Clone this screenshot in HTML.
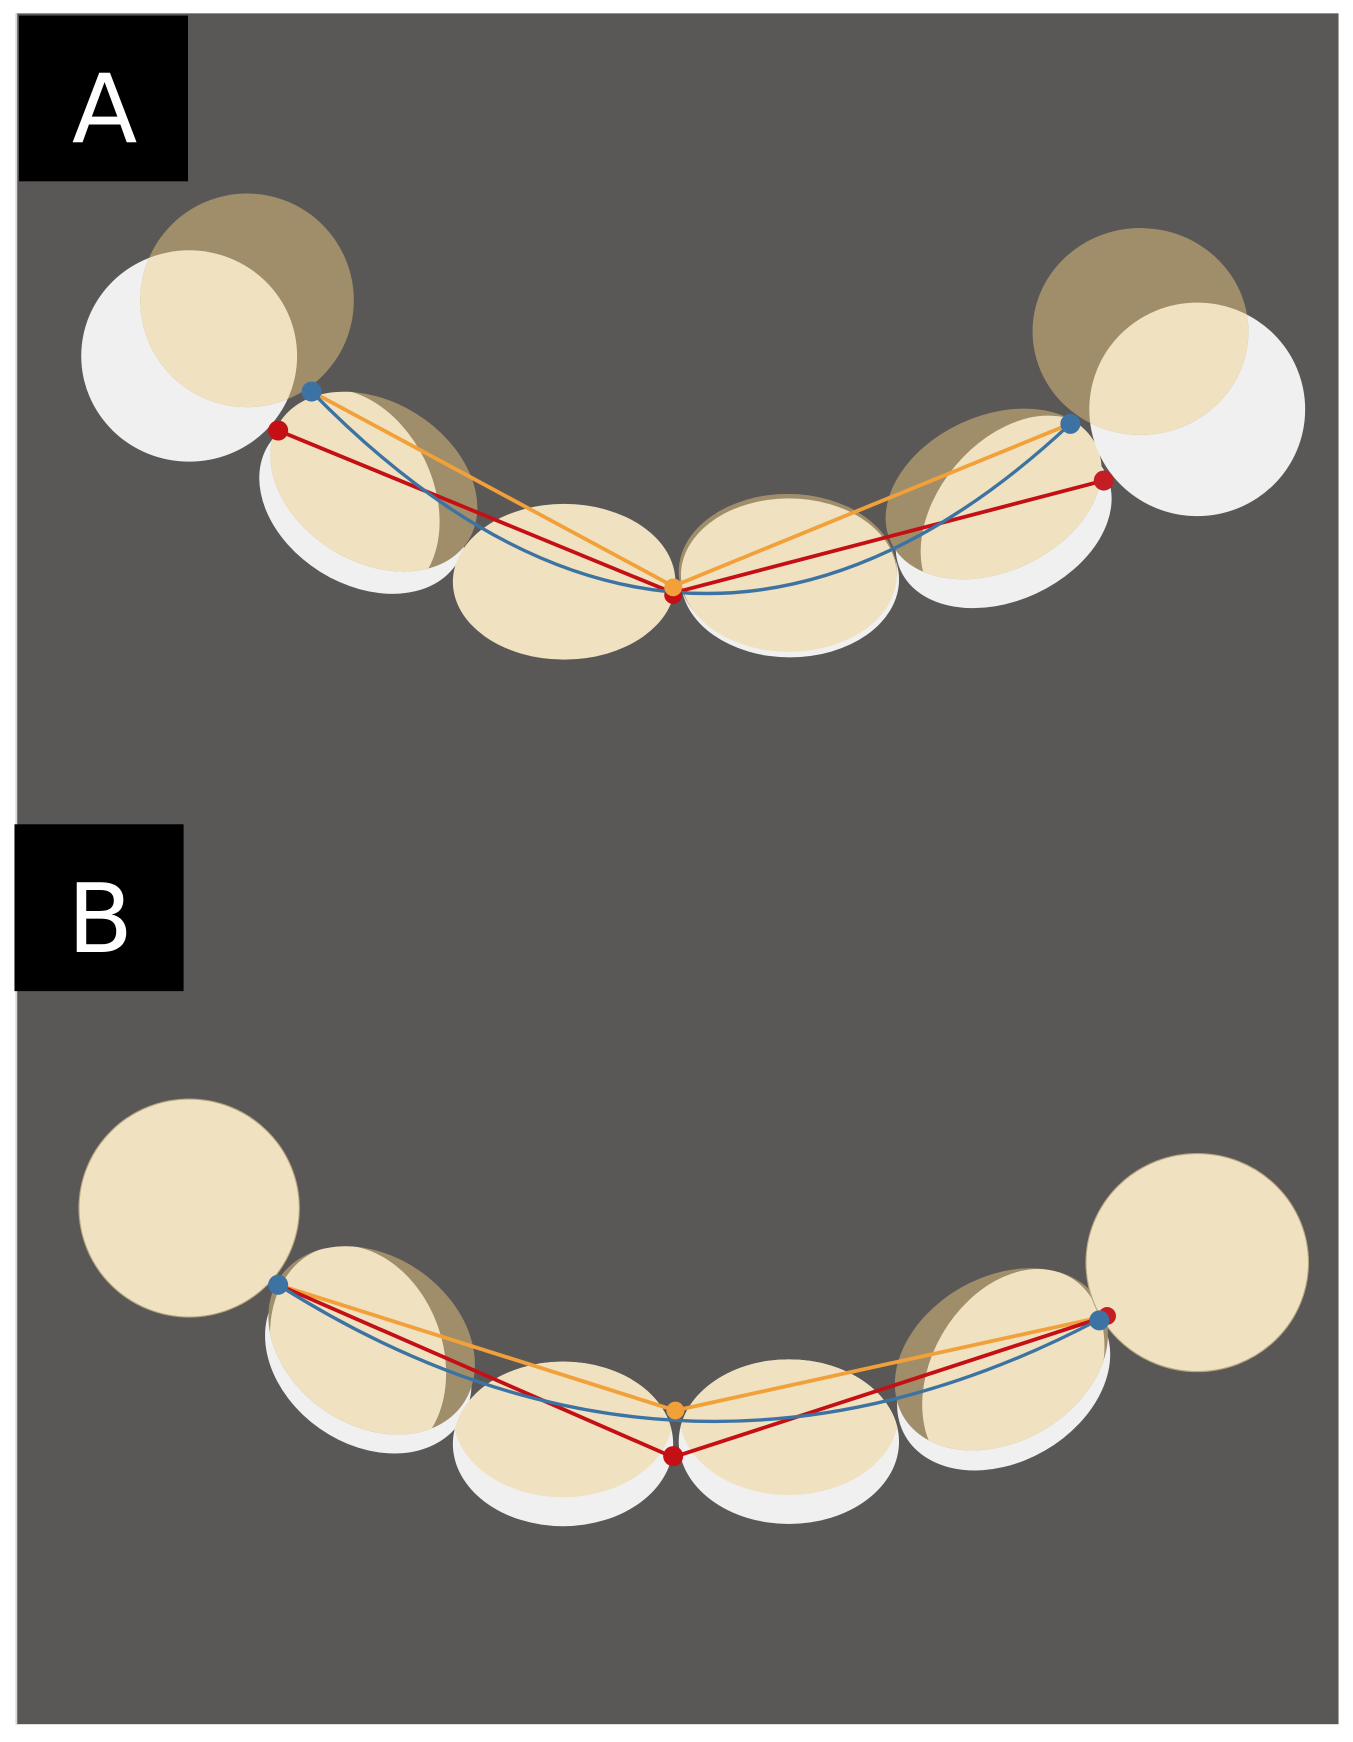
<!DOCTYPE html>
<html><head><style>html,body{margin:0;padding:0;background:#fff}svg{display:block}</style></head>
<body>
<svg width="1353" height="1742" viewBox="0 0 1216 1566" preserveAspectRatio="none" xmlns="http://www.w3.org/2000/svg">
<defs>
<clipPath id="c1"><ellipse cx="170" cy="320" rx="97" ry="95"/></clipPath>
<clipPath id="c2"><ellipse cx="326" cy="453" rx="100" ry="72" transform="rotate(32 326 453)"/></clipPath>
<clipPath id="c5"><ellipse cx="902" cy="470" rx="102" ry="70" transform="rotate(-25 902 470)"/></clipPath>
<clipPath id="c6"><ellipse cx="1076" cy="368" rx="97" ry="96"/></clipPath>
<clipPath id="b2"><ellipse cx="331" cy="1222" rx="100" ry="76" transform="rotate(35 331 1222)"/></clipPath>
<clipPath id="b3"><ellipse cx="506" cy="1298" rx="99" ry="74"/></clipPath>
<clipPath id="b4"><ellipse cx="709" cy="1296" rx="99" ry="74"/></clipPath>
<clipPath id="b5"><ellipse cx="902" cy="1240" rx="102" ry="74" transform="rotate(-30 902 1240)"/></clipPath>
</defs>
<rect x="0" y="0" width="1216" height="1566" fill="#fff"/>
<rect x="14" y="12" width="1189" height="1538" fill="#595857"/>
<rect x="14" y="12" width="1.5" height="1538" fill="#d8d8d8"/>

<rect x="17" y="14" width="152" height="149" fill="#000"/>
<text x="94" y="128" font-family="DejaVu Sans, sans-serif" font-size="86" fill="#fff" text-anchor="middle">A</text>

<ellipse cx="170" cy="320" rx="97" ry="95" fill="#f0f0f0"/>
<ellipse cx="222" cy="270" rx="96" ry="96" fill="#a08e6a"/>
<ellipse cx="222" cy="270" rx="96" ry="96" fill="#f0e2c0" clip-path="url(#c1)"/>

<ellipse cx="326" cy="453" rx="100" ry="72" transform="rotate(32 326 453)" fill="#f0f0f0"/>
<ellipse cx="336" cy="433" rx="100" ry="72" transform="rotate(32 336 433)" fill="#a08e6a"/>
<ellipse cx="336" cy="433" rx="100" ry="72" transform="rotate(32 336 433)" fill="#f0e2c0" clip-path="url(#c2)"/>

<ellipse cx="507" cy="523" rx="100" ry="70" fill="#f0e2c0"/>

<ellipse cx="710" cy="521" rx="98" ry="70" fill="#f0f0f0"/>
<ellipse cx="708" cy="514" rx="98" ry="70" fill="#a08e6a"/>
<ellipse cx="709" cy="517" rx="97" ry="69" fill="#f0e2c0"/>

<ellipse cx="902" cy="470" rx="102" ry="70" transform="rotate(-25 902 470)" fill="#f0f0f0"/>
<ellipse cx="893" cy="444" rx="102" ry="70" transform="rotate(-25 893 444)" fill="#a08e6a"/>
<ellipse cx="893" cy="444" rx="102" ry="70" transform="rotate(-25 893 444)" fill="#f0e2c0" clip-path="url(#c5)"/>

<ellipse cx="1076" cy="368" rx="97" ry="96" fill="#f0f0f0"/>
<ellipse cx="1025" cy="298" rx="97" ry="93" fill="#a08e6a"/>
<ellipse cx="1025" cy="298" rx="97" ry="93" fill="#f0e2c0" clip-path="url(#c6)"/>

<polyline points="280,352 605,527 962,381" fill="none" stroke="#f2a13a" stroke-width="3.4"/>
<polyline points="250,387 605,533 992,432" fill="none" stroke="#c40f14" stroke-width="3.4"/>
<path d="M280,352 Q620,700 962,381" fill="none" stroke="#3d73a3" stroke-width="3"/>
<circle cx="605" cy="535" r="8" fill="#c40f14"/>
<circle cx="605" cy="528" r="8" fill="#f2a13a"/>
<circle cx="250" cy="387" r="9" fill="#c40f14"/>
<circle cx="280" cy="352" r="9" fill="#3d73a3"/>
<circle cx="992" cy="432" r="9" fill="#c41e24"/>
<circle cx="962" cy="381" r="9" fill="#3d73a3"/>

<rect x="13" y="741" width="152" height="150" fill="#000"/>
<text x="90" y="856" font-family="DejaVu Sans, sans-serif" font-size="86" fill="#fff" text-anchor="middle">B</text>

<ellipse cx="170" cy="1086" rx="99" ry="98" fill="#f0e2c0" stroke="#b8a680" stroke-width="1"/>
<ellipse cx="331" cy="1222" rx="100" ry="76" transform="rotate(35 331 1222)" fill="#f0f0f0"/>
<ellipse cx="334" cy="1205" rx="100" ry="76" transform="rotate(35 334 1205)" fill="#a08e6a"/>
<ellipse cx="334" cy="1205" rx="100" ry="76" transform="rotate(35 334 1205)" fill="#f0e2c0" clip-path="url(#b2)"/>
<ellipse cx="506" cy="1298" rx="99" ry="74" fill="#f0f0f0"/>
<ellipse cx="506" cy="1272" rx="99" ry="74" fill="#f0e2c0" clip-path="url(#b3)"/>
<ellipse cx="709" cy="1296" rx="99" ry="74" fill="#f0f0f0"/>
<ellipse cx="709" cy="1270" rx="99" ry="74" fill="#f0e2c0" clip-path="url(#b4)"/>
<ellipse cx="902" cy="1240" rx="102" ry="74" transform="rotate(-30 902 1240)" fill="#f0f0f0"/>
<ellipse cx="900" cy="1222" rx="102" ry="74" transform="rotate(-30 900 1222)" fill="#a08e6a"/>
<ellipse cx="900" cy="1222" rx="102" ry="74" transform="rotate(-30 900 1222)" fill="#f0e2c0" clip-path="url(#b5)"/>
<ellipse cx="1076" cy="1135" rx="100" ry="98" fill="#f0e2c0" stroke="#b8a680" stroke-width="1"/>

<polyline points="250,1155 607,1268 990,1184" fill="none" stroke="#f2a13a" stroke-width="3.4"/>
<polyline points="250,1155 605,1310 995,1183" fill="none" stroke="#c40f14" stroke-width="3.4"/>
<path d="M250,1155 Q612,1384 988,1186" fill="none" stroke="#3d73a3" stroke-width="3"/>
<circle cx="605" cy="1309" r="9" fill="#c40f14"/>
<circle cx="607" cy="1268" r="8" fill="#f2a13a"/>
<circle cx="995" cy="1183" r="8" fill="#c41e24"/>
<circle cx="988" cy="1187" r="9" fill="#3d73a3"/>
<circle cx="250" cy="1155" r="9" fill="#3d73a3"/>
</svg>
</body></html>
